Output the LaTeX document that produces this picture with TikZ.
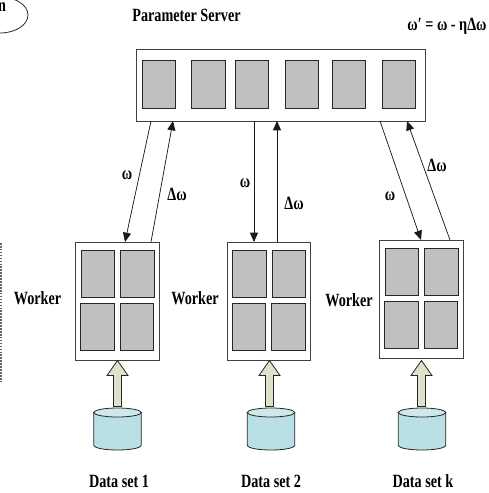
\documentclass[tikz,border=0pt]{standalone}
\usepackage{fontspec}
\setmainfont{Liberation Serif}
\usepackage{graphicx}
\usepackage{amsmath}
\usetikzlibrary{shapes.geometric, arrows.meta, positioning, calc}

\definecolor{cellgray}{HTML}{C0C0C0}
\definecolor{feedgreen}{HTML}{DDE2CC}
\definecolor{databody}{HTML}{B9E0E4}
\definecolor{datatop}{HTML}{CFE9EB}

\newcommand{\lbltext}[1]{\scalebox{0.76}[1]{#1}}

\tikzset{
    boxframe/.style={draw=black!75, fill=white, line width=0.7pt, minimum width=#1, inner sep=0pt},
    cellbox/.style={draw=black!85, fill=cellgray, line width=0.8pt, minimum width=25pt, minimum height=35.5pt, inner sep=0pt},
    lbl/.style={font=\fontsize{14}{16}\selectfont\bfseries, inner sep=0pt},
    link/.style={draw=black!90, line width=0.55pt, -{Triangle[length=7pt,width=6pt]}},
    feedarrow/.style={draw=black!85, fill=feedgreen, line width=0.6pt, line join=miter},
    dataside/.style={draw=black!85, fill=databody, line width=0.6pt},
    datacap/.style={draw=black!85, fill=datatop, line width=0.6pt},
}

\begin{document}
\begin{tikzpicture}[x=0.75pt,y=-0.75pt]
\useasboundingbox (0,0) rectangle (489,493);

% Cut-off pieces at the left edge
\begin{scope}
\clip (0,0) rectangle (489,493);
\node[draw=black!85, line width=0.6pt, ellipse, minimum width=42pt, minimum height=27pt, inner sep=0pt] (oval) at (0,15) {};
\node[lbl] (ovallbl) at (2,7) {\lbltext{n}};
\draw[black!60, line width=1.2pt, densely dotted] (1,243) -- (1,381);
\end{scope}

% Parameter server
\node[boxframe=216.5pt, minimum height=54pt] (server) at (280.75,85) {};
\foreach \i/\x in {1/159,2/208.5,3/252,4/302,5/349,6/399} {
    \node[cellbox] (scell\i) at (\x,84.5) {};
}

% Workers
\foreach \k/\x/\y in {1/117.5/301.5,2/269/301.5,3/421.5/299.5} {
    \node[boxframe=62.5pt, minimum height=89pt] (worker\k) at (\x,\y) {};
    \node[cellbox] (wcell\k a) at (\x-19.5,\y-27.5) {};
    \node[cellbox] (wcell\k b) at (\x+20,\y-27.5) {};
    \node[cellbox] (wcell\k c) at (\x-20,\y+25.5) {};
    \node[cellbox] (wcell\k d) at (\x+19.5,\y+25.5) {};
}

% Data sets and feed arrows
\foreach \k/\x/\ax in {1/117.5/117.5,2/271/269.5,3/422/421.5} {
    \coordinate (data\k) at (\x,412.5);
    \draw[dataside] ($(data\k)+(-23.75,0)$) -- ++(0,32.5)
        .. controls +(0,6.67) and +(0,6.67) .. ++(47.5,0) -- ++(0,-32.5) -- cycle;
    \draw[datacap] (data\k) ellipse [x radius=23.75, y radius=4.5];
    \coordinate (feed\k) at (\ax,360.5);
    \draw[feedarrow] (feed\k) -- ++(10.5,15) -- ++(-6.5,0) -- ++(0,31) -- ++(-8,0) -- ++(0,-31) -- ++(-6.5,0) -- cycle;
}

% Ends of the links
\coordinate (s1a) at (151,121); \coordinate (w1a) at (125,242);
\coordinate (w1b) at (151,242); \coordinate (s1b) at (173,121);
\coordinate (s2a) at (254,121); \coordinate (w2a) at (254,242);
\coordinate (w2b) at (277,242); \coordinate (s2b) at (277,121);
\coordinate (s3a) at (380,121); \coordinate (w3a) at (421,240);
\coordinate (w3b) at (450,240); \coordinate (s3b) at (407,121);

\draw[link] (s1a) -- (w1a);
\draw[link] (w1b) -- (s1b);
\draw[link] (s2a) -- (w2a);
\draw[link] (w2b) -- (s2b);
\draw[link] (s3a) -- (w3a);
\draw[link] (w3b) -- (s3b);

% Labels
\node[lbl] (title) at (186.5,15) {\lbltext{Parameter Server}};
\node[lbl] (rule) at (447,26) {\lbltext{ω′ = ω - ηΔω}};

\node[lbl] (om1) at (127,175) {\lbltext{ω}};
\node[lbl] (dom1) at (177,194) {\lbltext{Δω}};
\node[lbl] (om2) at (245,183) {\lbltext{ω}};
\node[lbl] (dom2) at (294,203) {\lbltext{Δω}};
\node[lbl] (om3) at (390,196) {\lbltext{ω}};
\node[lbl] (dom3) at (437,165) {\lbltext{Δω}};

\node[lbl] (wlbl1) at (37.5,298) {\lbltext{Worker}};
\node[lbl] (wlbl2) at (195,298) {\lbltext{Worker}};
\node[lbl] (wlbl3) at (349,300) {\lbltext{Worker}};

\node[lbl] (dlbl1) at (119,481) {\lbltext{Data set 1}};
\node[lbl] (dlbl2) at (271,481) {\lbltext{Data set 2}};
\node[lbl] (dlbl3) at (423,481) {\lbltext{Data set k}};
\end{tikzpicture}
\end{document}
